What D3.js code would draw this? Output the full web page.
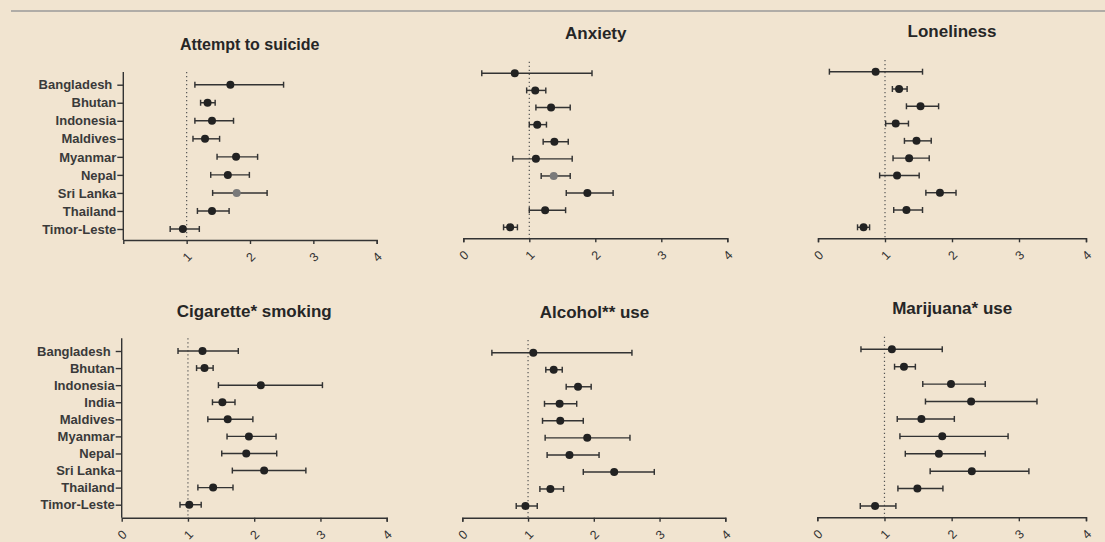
<!DOCTYPE html>
<html>
<head>
<meta charset="utf-8">
<script src="https://cdn.jsdelivr.net/npm/d3@7"></script>
<style>
  html, body { margin: 0; padding: 0; background: #f1e4d0; }
  svg { display: block; }
  .title { font-family: "Liberation Sans", Arial, sans-serif; font-weight: bold; fill: #262626; }
  .ylab text { font-family: "Liberation Sans", Arial, sans-serif; font-weight: bold; font-size: 13px; fill: #3a3a3a; }
  .xax text { font-family: "Liberation Sans", Arial, sans-serif; font-size: 12.5px; fill: #333; }
  .domain, .tick line { stroke: #333; stroke-width: 1.4; }
</style>
</head>
<body>
<svg id="chart" width="1105" height="542"></svg>
<script>
// Countries shown in the forest plots
const countries9 = ["Bangladesh", "Bhutan", "Indonesia", "Maldives", "Myanmar", "Nepal", "Sri Lanka", "Thailand", "Timor-Leste"];
const countries10 = ["Bangladesh", "Bhutan", "Indonesia", "India", "Maldives", "Myanmar", "Nepal", "Sri Lanka", "Thailand", "Timor-Leste"];

const panelTitles = ["Attempt to suicide", "Anxiety", "Loneliness", "Cigarette* smoking", "Alcohol** use", "Marijuana* use"];
const xTicks = [0, 1, 2, 3, 4];

// Odds ratios with 95% confidence limits
const suicideOR   = [1.69, 1.33, 1.40, 1.29, 1.78, 1.65, 1.79, 1.40, 0.94];
const suicideLow  = [1.13, 1.22, 1.13, 1.10, 1.48, 1.38, 1.41, 1.17, 0.74];
const suicideHigh = [2.53, 1.45, 1.74, 1.52, 2.12, 1.99, 2.27, 1.67, 1.20];

const anxietyOR   = [0.78, 1.09, 1.33, 1.12, 1.38, 1.10, 1.37, 1.88, 1.24, 0.71];
const anxietyLow  = [0.28, 0.96, 1.10, 1.00, 1.21, 0.75, 1.18, 1.56, 1.00, 0.61];
const anxietyHigh = [1.95, 1.25, 1.62, 1.26, 1.59, 1.65, 1.62, 2.27, 1.55, 0.82];

const lonelyOR    = [0.86, 1.21, 1.53, 1.16, 1.47, 1.36, 1.18, 1.82, 1.32, 0.68];
const lonelyLow   = [0.17, 1.11, 1.32, 1.01, 1.29, 1.12, 0.92, 1.61, 1.13, 0.59];
const lonelyHigh  = [1.56, 1.33, 1.80, 1.35, 1.69, 1.66, 1.51, 2.06, 1.56, 0.77];

const smokingOR   = [1.22, 1.25, 2.10, 1.52, 1.60, 1.92, 1.88, 2.15, 1.38, 1.02];
const smokingLow  = [0.85, 1.13, 1.46, 1.37, 1.30, 1.59, 1.51, 1.67, 1.15, 0.88];
const smokingHigh = [1.76, 1.38, 3.03, 1.71, 1.98, 2.33, 2.34, 2.78, 1.68, 1.20];

const alcoholOR   = [1.08, 1.39, 1.76, 1.48, 1.49, 1.90, 1.63, 2.31, 1.34, 0.96];
const alcoholLow  = [0.45, 1.27, 1.58, 1.25, 1.22, 1.26, 1.29, 1.84, 1.18, 0.82];
const alcoholHigh = [2.58, 1.52, 1.96, 1.74, 1.84, 2.55, 2.08, 2.92, 1.54, 1.14];

const marijuanaOR   = [1.11, 1.29, 1.99, 2.29, 1.55, 1.86, 1.81, 2.30, 1.49, 0.86];
const marijuanaLow  = [0.65, 1.15, 1.57, 1.61, 1.19, 1.23, 1.31, 1.68, 1.20, 0.64];
const marijuanaHigh = [1.86, 1.46, 2.50, 3.27, 2.04, 2.84, 2.50, 3.15, 1.87, 1.17];

// Row drawn with a lighter marker in each panel (-1 = none)
const lightRow = [6, 6, -1, -1, -1, -1];

const svg = d3.select("#chart");

// Rule across the top of the figure
svg.append("line")
  .attr("x1", 11).attr("x2", 1105).attr("y1", 11).attr("y2", 11)
  .attr("stroke", "#9a9a9a").attr("stroke-width", 1.5);

// Layout of each panel: x extent of the 0..4 axis, axis baseline, first/last row, reference-line top, title anchor
const layout = [
  { x0: 123.3, x1: 376.7, axisY: 240,   r0: 84.7,  r1: 229,   refTop: 72,    tx: 249.7, ty: 50,    fs: 16, yAxis: true,  zeroLabel: false },
  { x0: 463.3, x1: 727.3, axisY: 238.3, r0: 73.3,  r1: 227.3, refTop: 61.7,  tx: 595.8, ty: 39.3,  fs: 17, yAxis: false, zeroLabel: true },
  { x0: 818,   x1: 1086,  axisY: 238.3, r0: 71.7,  r1: 227.3, refTop: 60,    tx: 952,   ty: 36.7,  fs: 17, yAxis: false, zeroLabel: true },
  { x0: 121.7, x1: 386.7, axisY: 517.7, r0: 351,   r1: 504.7, refTop: 338.3, tx: 254.2, ty: 316.7, fs: 17, yAxis: true,  zeroLabel: true },
  { x0: 462.3, x1: 725.3, axisY: 517.7, r0: 352.7, r1: 506,   refTop: 340,   tx: 594.5, ty: 318.3, fs: 17, yAxis: false, zeroLabel: true },
  { x0: 817.3, x1: 1086,  axisY: 517.3, r0: 349.3, r1: 506,   refTop: 336.7, tx: 952.2, ty: 314.3, fs: 17, yAxis: false, zeroLabel: true }
];

const panels = [
  { cats: countries9,  or: suicideOR,   lo: suicideLow,   hi: suicideHigh },
  { cats: countries10, or: anxietyOR,   lo: anxietyLow,   hi: anxietyHigh },
  { cats: countries10, or: lonelyOR,    lo: lonelyLow,    hi: lonelyHigh },
  { cats: countries10, or: smokingOR,   lo: smokingLow,   hi: smokingHigh },
  { cats: countries10, or: alcoholOR,   lo: alcoholLow,   hi: alcoholHigh },
  { cats: countries10, or: marijuanaOR, lo: marijuanaLow, hi: marijuanaHigh }
];

panels.forEach((p, i) => {
  const L = layout[i];
  const g = svg.append("g");

  const x = d3.scaleLinear().domain([0, 4]).range([L.x0, L.x1]);
  const y = d3.scalePoint().domain(p.cats).range([L.r0, L.r1]);

  // Title
  g.append("text").attr("class", "title")
    .attr("x", L.tx).attr("y", L.ty).attr("text-anchor", "middle")
    .style("font-size", L.fs + "px")
    .text(panelTitles[i]);

  // Reference line at OR = 1
  g.append("line")
    .attr("x1", x(1)).attr("x2", x(1))
    .attr("y1", L.refTop).attr("y2", L.axisY)
    .attr("stroke", "#555").attr("stroke-width", 1.2)
    .attr("stroke-dasharray", "1.2,2.8");

  // X axis with rotated tick labels
  const xa = g.append("g").attr("class", "xax")
    .attr("transform", `translate(0,${L.axisY})`)
    .call(d3.axisBottom(x).tickValues(xTicks).tickSize(4).tickSizeOuter(4).tickFormat(d3.format("d")));
  xa.selectAll(".tick text")
    .attr("y", null).attr("dy", "0.35em")
    .attr("text-anchor", "middle")
    .attr("transform", "translate(0,17) rotate(-45)")
    .style("display", d => (d === 0 && !L.zeroLabel) ? "none" : null);
  if (L.yAxis) xa.selectAll(".tick").filter(d => d === 0).select("line").style("display", "none");

  // Y axis with country names
  if (L.yAxis) {
    const ya = g.append("g").attr("class", "ylab")
      .attr("transform", `translate(${L.x0},0)`)
      .call(d3.axisLeft(y).tickSize(6).tickPadding(1).tickSizeOuter(0));
    ya.select(".domain").attr("d", `M0,${L.refTop}V${L.axisY}`);
    ya.selectAll(".tick text").filter(d => d === "Bangladesh").attr("dx", "-4");
  }

  // Confidence intervals
  const rows = p.cats.map((c, k) => ({ c, or: p.or[k], lo: p.lo[k], hi: p.hi[k], k }));
  const bars = g.append("g").attr("stroke", "#333").attr("stroke-width", 1.45);
  bars.selectAll("line.ci").data(rows).join("line").attr("class", "ci")
    .attr("x1", d => x(d.lo)).attr("x2", d => x(d.hi))
    .attr("y1", d => y(d.c)).attr("y2", d => y(d.c));
  bars.selectAll("line.capL").data(rows).join("line").attr("class", "capL")
    .attr("x1", d => x(d.lo)).attr("x2", d => x(d.lo))
    .attr("y1", d => y(d.c) - 3).attr("y2", d => y(d.c) + 3);
  bars.selectAll("line.capH").data(rows).join("line").attr("class", "capH")
    .attr("x1", d => x(d.hi)).attr("x2", d => x(d.hi))
    .attr("y1", d => y(d.c) - 3).attr("y2", d => y(d.c) + 3);

  // Point estimates
  g.selectAll("circle").data(rows).join("circle")
    .attr("cx", d => x(d.or)).attr("cy", d => y(d.c)).attr("r", 4)
    .attr("fill", d => d.k === lightRow[i] ? "#7a7a7a" : "#222");
});
</script>
</body>
</html>
